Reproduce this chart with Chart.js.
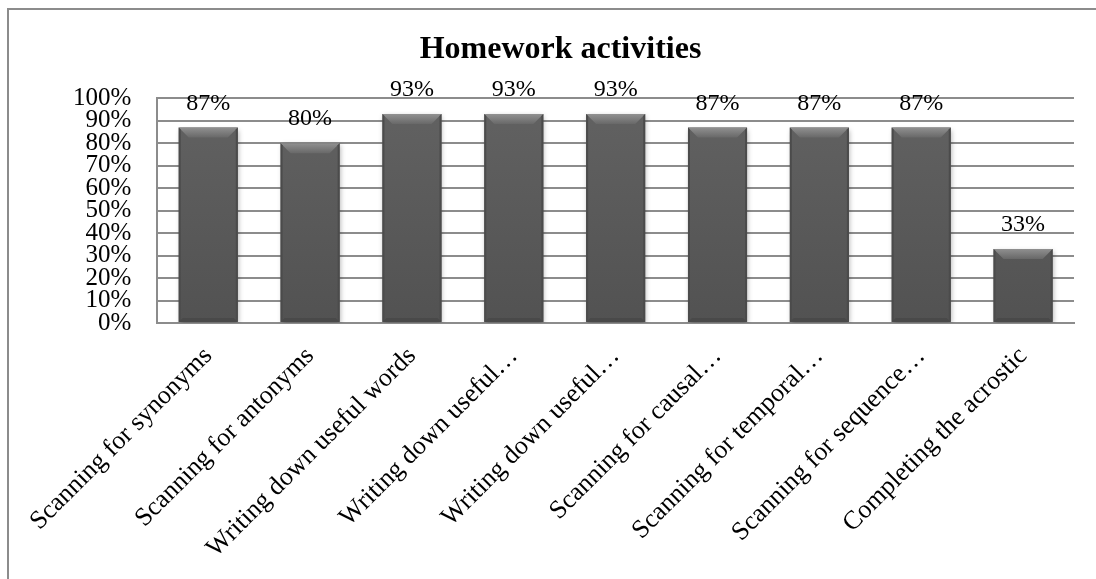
<!DOCTYPE html>
<html>
<head>
<meta charset="utf-8">
<script src="https://cdn.jsdelivr.net/npm/chart.js@4.4.1/dist/chart.umd.min.js"></script>
<style>
  html, body { margin: 0; padding: 0; background: #fff; overflow: hidden; }
  #frame {
    position: absolute; left: 7px; top: 8px; width: 1300px; height: 800px;
    border-top: 2px solid #8c8c8c; border-left: 2px solid #8c8c8c;
  }
  #wrap { position: absolute; left: 0; top: 0; width: 1096px; height: 579px; }
</style>
</head>
<body>
<div id="frame"></div>
<div id="wrap"><canvas id="chart"></canvas></div>
<script>
// ── Data ──────────────────────────────────────────────────────
const categories = [
  'Scanning for synonyms',
  'Scanning for antonyms',
  'Writing down useful words',
  'Writing down useful…',
  'Writing down useful…',
  'Scanning for causal…',
  'Scanning for temporal…',
  'Scanning for sequence…',
  'Completing the acrostic',
];
const percentValues = [87, 80, 93, 93, 93, 87, 87, 87, 33];
const yTicks = [0, 10, 20, 30, 40, 50, 60, 70, 80, 90, 100];

const SERIF = "'Liberation Serif', 'Times New Roman', serif";

// body of the bar: slightly lighter at the top
function barFill(context) {
  const { chart } = context;
  const area = chart.chartArea;
  if (!area) return '#5a5a5a';
  const g = chart.ctx.createLinearGradient(0, area.top, 0, area.bottom);
  g.addColorStop(0, '#626262');
  g.addColorStop(1, '#525252');
  return g;
}

// ── Bar bevel + labels ────────────────────────────────────────
const bevelPlugin = {
  id: 'bevel',
  beforeDatasetDraw(chart) {
    const ctx = chart.ctx;
    ctx.save();
    ctx.shadowColor = 'rgba(0,0,0,0.3)';
    ctx.shadowBlur  = 5;
    ctx.shadowOffsetX = 1;
    ctx.shadowOffsetY = 2;
  },
  afterDatasetDraw(chart) {
    chart.ctx.restore();
  },
  afterDatasetsDraw(chart) {
    const ctx  = chart.ctx;
    const meta = chart.getDatasetMeta(0);
    meta.data.forEach((bar, i) => {
      const { x, y, base, width } = bar.getProps(['x', 'y', 'base', 'width'], true);
      const l = x - width / 2, r = x + width / 2, b = 10, s = 2, bb = 4;
      ctx.save();
      // top
      const g = ctx.createLinearGradient(0, y, 0, y + b);
      g.addColorStop(0, '#909090');
      g.addColorStop(1, '#686868');
      ctx.fillStyle = g;
      ctx.beginPath();
      ctx.moveTo(l, y); ctx.lineTo(r, y); ctx.lineTo(r - b, y + b); ctx.lineTo(l + b, y + b);
      ctx.closePath(); ctx.fill();
      // sides
      ctx.fillStyle = '#4b4b4b';
      ctx.beginPath();
      ctx.moveTo(l, y); ctx.lineTo(l + s, y + s); ctx.lineTo(l + s, base - s); ctx.lineTo(l, base);
      ctx.closePath(); ctx.fill();
      ctx.beginPath();
      ctx.moveTo(r, y); ctx.lineTo(r - s, y + s); ctx.lineTo(r - s, base - s); ctx.lineTo(r, base);
      ctx.closePath(); ctx.fill();
      // bottom
      ctx.fillStyle = '#494949';
      ctx.beginPath();
      ctx.moveTo(l, base); ctx.lineTo(l + bb, base - bb); ctx.lineTo(r - bb, base - bb); ctx.lineTo(r, base);
      ctx.closePath(); ctx.fill();

      // value label
      ctx.fillStyle = '#000';
      ctx.font = `24px ${SERIF}`;
      ctx.textAlign = 'center';
      ctx.textBaseline = 'alphabetic';
      ctx.fillText(percentValues[i] + '%', x, y - 18);
      ctx.restore();
    });
  },
};

new Chart(document.getElementById('chart'), {
  type: 'bar',
  data: {
    labels: categories,
    datasets: [{
      data: percentValues,
      backgroundColor: barFill,
      borderWidth: 0,
      categoryPercentage: 1,
      barPercentage: 0.58,
    }],
  },
  options: {
    responsive: true,
    maintainAspectRatio: false,
    animation: false,
    layout: { padding: { left: 47, right: 22, top: 31, bottom: 16 } },
    plugins: {
      legend: { display: false },
      tooltip: { enabled: false },
      title: {
        display: true,
        text: 'Homework activities',
        color: '#000',
        font: { family: SERIF, size: 32, weight: 'bold' },
        padding: { top: 0, bottom: 29 },
      },
    },
    scales: {
      x: {
        grid: { display: false, drawTicks: false },
        border: { display: true, color: '#8c8c8c', width: 2 },
        ticks: {
          color: '#000',
          font: { family: SERIF, size: 26 },
          minRotation: 45,
          maxRotation: 45,
          autoSkip: false,
          padding: 18,
        },
        // rotated labels may run off to the left, like the original
        afterFit: axis => {
          axis.paddingLeft = 0;
          axis.paddingRight = 0;
          axis.height = 240;
        },
      },
      y: {
        min: 0,
        max: 100,
        afterBuildTicks: axis => { axis.ticks = yTicks.map(v => ({ value: v })); },
        grid: { color: '#8c8c8c', lineWidth: 2, drawTicks: false },
        border: { display: true, color: '#8c8c8c', width: 2 },
        ticks: {
          color: '#000',
          font: { family: SERIF, size: 25, lineHeight: 0.9 },
          autoSkip: false,
          padding: 26,
          callback: v => v + '%',
        },
      },
    },
  },
  plugins: [bevelPlugin],
});
</script>
</body>
</html>
